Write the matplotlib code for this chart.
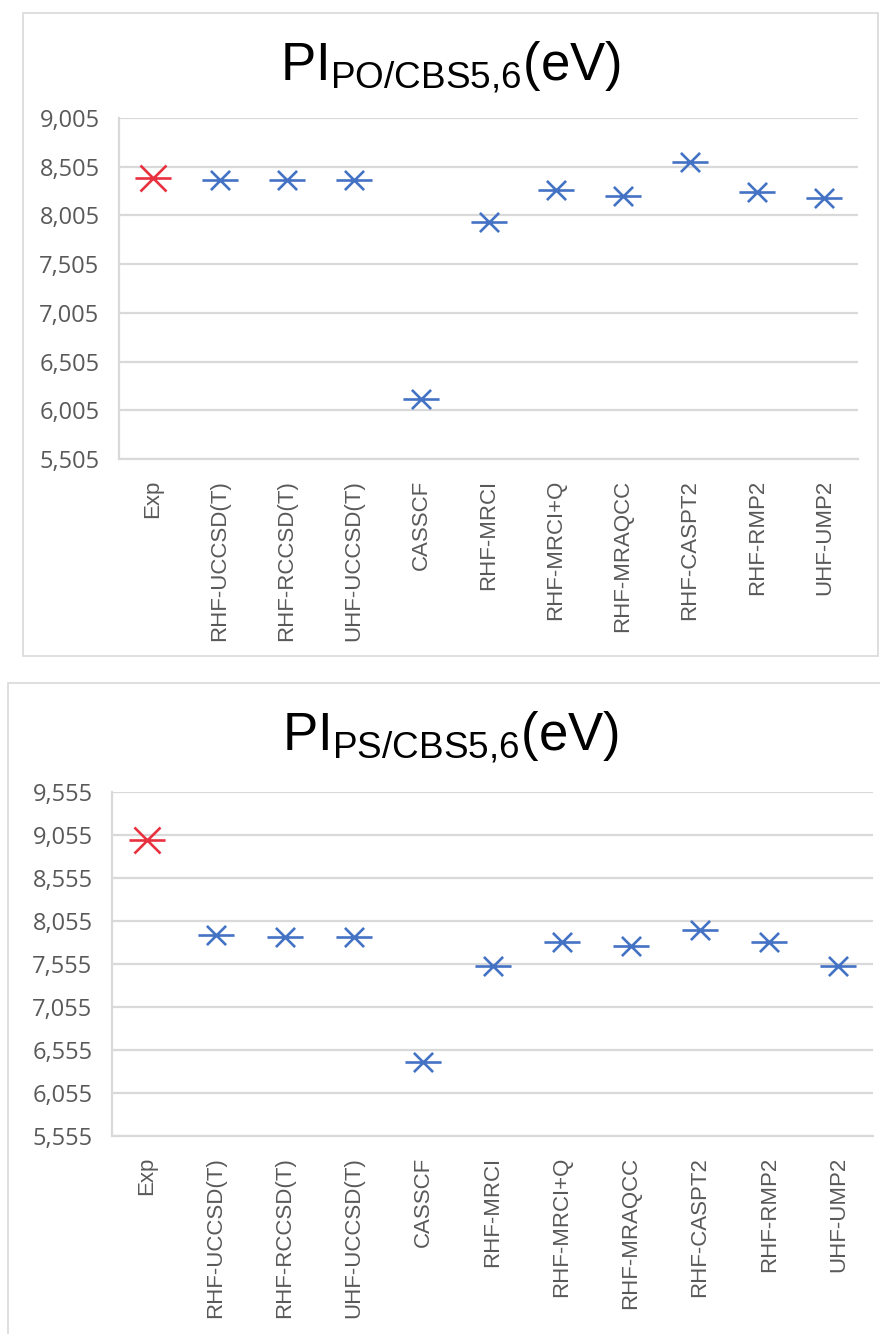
import matplotlib
matplotlib.use("Agg")
import matplotlib.pyplot as plt
from matplotlib.path import Path
from matplotlib.patches import Rectangle
from matplotlib.ticker import FixedLocator, FuncFormatter
import numpy as np

plt.rcParams['mathtext.fontset'] = 'custom'
plt.rcParams['mathtext.rm'] = 'Liberation Sans'
plt.rcParams['mathtext.it'] = 'Liberation Sans:italic'
plt.rcParams['mathtext.bf'] = 'Liberation Sans:bold'

methods = ['Exp', 'RHF-UCCSD(T)', 'RHF-RCCSD(T)', 'UHF-UCCSD(T)', 'CASSCF',
           'RHF-MRCI', 'RHF-MRCI+Q', 'RHF-MRAQCC', 'RHF-CASPT2', 'RHF-RMP2',
           'UHF-UMP2']

# ionisation potentials (eV)
pi_po = [8.39, 8.37, 8.37, 8.37, 6.12, 7.94, 8.27, 8.20, 8.55, 8.25, 8.18]
pi_ps = [9.00, 7.89, 7.865, 7.865, 6.42, 7.53, 7.815, 7.76, 7.945, 7.815, 7.53]

po_ticks = [5.505, 6.005, 6.505, 7.005, 7.505, 8.005, 8.505, 9.005]
ps_ticks = [5.555, 6.055, 6.555, 7.055, 7.555, 8.055, 8.555, 9.055, 9.555]

BLUE = '#4472C4'
RED = '#E8313F'
GRID = '#D9D9D9'
LABEL = '#595959'

W, H = 880, 1334


def star(a):
    # excel-like star: long horizontal bar with a shorter X through it
    verts = [(-1, 0), (1, 0), (-a, -a), (a, a), (-a, a), (a, -a)]
    codes = [Path.MOVETO, Path.LINETO] * 3
    return Path(verts, codes)


def comma(v, pos):
    return f"{v:.3f}".replace('.', ',')


def panel(fig, box, axbox, title, title_y, values, ticks):
    x0, y0, x1, y1 = box
    fig.patches.append(Rectangle((x0 / W, 1 - y1 / H), (x1 - x0) / W, (y1 - y0) / H,
                                 transform=fig.transFigure, fill=False,
                                 edgecolor=GRID, linewidth=1.2))
    fig.text(450 / W, 1 - title_y / H, title, ha='center', va='baseline',
             fontsize=38, color='black')

    l, t, r, b = axbox
    ax = fig.add_axes([l / W, 1 - b / H, (r - l) / W, (b - t) / H])
    x = np.arange(len(methods))
    ax.plot(x[1:], values[1:], linestyle='none', marker=star(0.53),
            markersize=26, markeredgewidth=1.9, color=BLUE)
    ax.plot(x[:1], values[:1], linestyle='none', marker=star(0.72),
            markersize=26, markeredgewidth=1.9, color=RED)

    ax.set_xlim(-0.5, len(methods) - 0.5)
    ax.set_ylim(ticks[0], ticks[-1])
    ax.yaxis.set_major_locator(FixedLocator(ticks))
    ax.yaxis.set_major_formatter(FuncFormatter(comma))
    ax.set_xticks(x)
    ax.set_xticklabels(methods, rotation=90, family='Liberation Sans',
                       fontsize=16, color=LABEL)
    for lab in ax.get_yticklabels():
        lab.set_family('Open Sans')
        lab.set_fontsize(17)
        lab.set_color(LABEL)
    ax.tick_params(axis='both', length=0)
    ax.tick_params(axis='x', pad=15)
    ax.tick_params(axis='y', pad=14)
    ax.grid(axis='y', color=GRID, linewidth=1.6)
    ax.set_axisbelow(True)
    for side in ('top', 'right'):
        ax.spines[side].set_visible(False)
    for side in ('left', 'bottom'):
        ax.spines[side].set_color(GRID)
        ax.spines[side].set_linewidth(1.6)
    return ax


fig = plt.figure(figsize=(W / 100, H / 100), dpi=100)

panel(fig, (23, 13, 878, 656), (119, 118, 858, 459),
      r'$\mathrm{PI_{PO/CBS5{,}6}(eV)}$', 80, pi_po, po_ticks)
panel(fig, (8, 683, 886, 1340), (112, 792, 873, 1136),
      r'$\mathrm{PI_{PS/CBS5{,}6}(eV)}$', 750, pi_ps, ps_ticks)

fig.savefig('out.png', dpi=100, facecolor='white')
